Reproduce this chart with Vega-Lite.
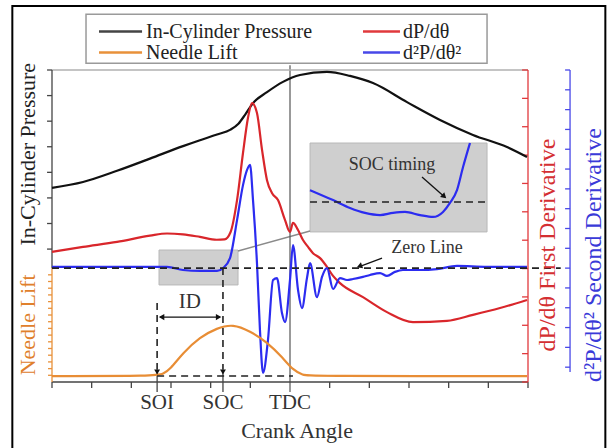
{
  "$schema": "https://vega.github.io/schema/vega-lite/v6.json",
  "width": 476,
  "height": 312,
  "autosize": {"type": "none"},
  "padding": {"left": 52, "top": 70, "right": 80, "bottom": 66},
  "background": "white",
  "config": {"view": {"stroke": null}},
  "encoding": {
    "x": {"field": "a", "type": "quantitative", "scale": {"domain": [-24, 24], "nice": false, "zero": false}, "axis": null},
    "y": {"field": "v", "type": "quantitative", "scale": {"domain": [0, 100], "nice": false, "zero": false}, "axis": null}
  },
  "layer": [
    {
      "data": {"values": [{"a": -28.0, "a2": 31.8, "v": 120.5, "v2": -21.5}]},
      "mark": {"type": "rect", "fillOpacity": 0, "stroke": "#000", "strokeWidth": 2},
      "encoding": {"x2": {"field": "a2"}, "y2": {"field": "v2"}}
    },
    {
      "data": {"values": [{"a": -20.57, "a2": 19.87, "v": 117.9, "v2": 102.2}]},
      "mark": {"type": "rect", "fill": "#ffffff", "stroke": "#9a9a9a", "strokeWidth": 1.5},
      "encoding": {"x2": {"field": "a2"}, "y2": {"field": "v2"}}
    },
    {
      "data": {"values": [
        {"a": -13.21, "a2": -5.24, "v": 42.3, "v2": 31.1},
        {"a": 2.02, "a2": 19.87, "v": 76.6, "v2": 48.1}
      ]},
      "mark": {"type": "rect", "fill": "#cfcfcf", "stroke": "#b8b8b8", "strokeWidth": 1},
      "encoding": {"x2": {"field": "a2"}, "y2": {"field": "v2"}}
    },
    {
      "data": {"values": [{"a": -5.24, "a2": 2.02, "v": 42.0, "v2": 48.4}]},
      "mark": {"type": "rule", "color": "#8a8a8a", "strokeWidth": 1.5},
      "encoding": {"x2": {"field": "a2"}, "y2": {"field": "v2"}}
    },
    {
      "data": {"values": [{"a": 0, "a2": 0, "v": 101.5, "v2": -3.2}]},
      "mark": {"type": "rule", "color": "#555555", "strokeWidth": 1.2},
      "encoding": {"x2": {"field": "a2"}, "y2": {"field": "v2"}}
    },
    {
      "data": {"values": [
        {"a": -24, "a2": 24, "v": 0, "v2": 0, "g": "k"},
        {"a": -24, "a2": 24, "v": 100, "v2": 100, "g": "l"},
        {"a": -24, "a2": -24, "v": 36.5, "v2": 100, "g": "k"},
        {"a": -24, "a2": -24, "v": 0, "v2": 36.5, "g": "o"},
        {"a": 24, "a2": 24, "v": 0, "v2": 100, "g": "r"},
        {"a": 28.24, "a2": 28.24, "v": 3.2, "v2": 100, "g": "b"},
        {"a": -24, "a2": -24, "v": 0, "v2": -1.9, "g": "k"},
        {"a": -20, "a2": -20, "v": 0, "v2": -1.9, "g": "k"},
        {"a": -16, "a2": -16, "v": 0, "v2": -1.9, "g": "k"},
        {"a": -12, "a2": -12, "v": 0, "v2": -1.9, "g": "k"},
        {"a": -8, "a2": -8, "v": 0, "v2": -1.9, "g": "k"},
        {"a": -4, "a2": -4, "v": 0, "v2": -1.9, "g": "k"},
        {"a": 4, "a2": 4, "v": 0, "v2": -1.9, "g": "k"},
        {"a": 8, "a2": 8, "v": 0, "v2": -1.9, "g": "k"},
        {"a": 12, "a2": 12, "v": 0, "v2": -1.9, "g": "k"},
        {"a": 16, "a2": 16, "v": 0, "v2": -1.9, "g": "k"},
        {"a": 20, "a2": 20, "v": 0, "v2": -1.9, "g": "k"},
        {"a": 24, "a2": 24, "v": 0, "v2": -1.9, "g": "k"},
        {"a": -13.4, "a2": -13.4, "v": 4.0, "v2": -3.2, "g": "k"},
        {"a": -6.76, "a2": -6.76, "v": 4.0, "v2": -3.2, "g": "k"},
        {"a": -24, "a2": -24.5, "v": 100, "v2": 100, "g": "k"},
        {"a": -24, "a2": -24.5, "v": 91.8, "v2": 91.8, "g": "k"},
        {"a": -24, "a2": -24.5, "v": 83.6, "v2": 83.6, "g": "k"},
        {"a": -24, "a2": -24.5, "v": 75.4, "v2": 75.4, "g": "k"},
        {"a": -24, "a2": -24.5, "v": 67.2, "v2": 67.2, "g": "k"},
        {"a": -24, "a2": -24.5, "v": 59.0, "v2": 59.0, "g": "k"},
        {"a": -24, "a2": -24.5, "v": 50.8, "v2": 50.8, "g": "k"},
        {"a": -24, "a2": -24.5, "v": 42.6, "v2": 42.6, "g": "k"},
        {"a": -24, "a2": -24.4, "v": 2.15, "v2": 2.15, "g": "o"},
        {"a": -24, "a2": -24.4, "v": 4.29, "v2": 4.29, "g": "o"},
        {"a": -24, "a2": -24.4, "v": 6.44, "v2": 6.44, "g": "o"},
        {"a": -24, "a2": -24.4, "v": 8.59, "v2": 8.59, "g": "o"},
        {"a": -24, "a2": -24.4, "v": 10.74, "v2": 10.74, "g": "o"},
        {"a": -24, "a2": -24.4, "v": 12.88, "v2": 12.88, "g": "o"},
        {"a": -24, "a2": -24.4, "v": 15.03, "v2": 15.03, "g": "o"},
        {"a": -24, "a2": -24.4, "v": 17.18, "v2": 17.18, "g": "o"},
        {"a": -24, "a2": -24.4, "v": 19.32, "v2": 19.32, "g": "o"},
        {"a": -24, "a2": -24.4, "v": 21.47, "v2": 21.47, "g": "o"},
        {"a": -24, "a2": -24.4, "v": 23.62, "v2": 23.62, "g": "o"},
        {"a": -24, "a2": -24.4, "v": 25.76, "v2": 25.76, "g": "o"},
        {"a": -24, "a2": -24.4, "v": 27.91, "v2": 27.91, "g": "o"},
        {"a": -24, "a2": -24.4, "v": 30.06, "v2": 30.06, "g": "o"},
        {"a": -24, "a2": -24.4, "v": 32.21, "v2": 32.21, "g": "o"},
        {"a": -24, "a2": -24.4, "v": 34.35, "v2": 34.35, "g": "o"},
        {"a": 24, "a2": 23.4, "v": 0, "v2": 0, "g": "r"},
        {"a": 24, "a2": 23.4, "v": 9.09, "v2": 9.09, "g": "r"},
        {"a": 24, "a2": 23.4, "v": 18.18, "v2": 18.18, "g": "r"},
        {"a": 24, "a2": 23.4, "v": 27.27, "v2": 27.27, "g": "r"},
        {"a": 24, "a2": 23.4, "v": 36.36, "v2": 36.36, "g": "r"},
        {"a": 24, "a2": 23.4, "v": 45.45, "v2": 45.45, "g": "r"},
        {"a": 24, "a2": 23.4, "v": 54.55, "v2": 54.55, "g": "r"},
        {"a": 24, "a2": 23.4, "v": 63.64, "v2": 63.64, "g": "r"},
        {"a": 24, "a2": 23.4, "v": 72.73, "v2": 72.73, "g": "r"},
        {"a": 24, "a2": 23.4, "v": 81.82, "v2": 81.82, "g": "r"},
        {"a": 24, "a2": 23.4, "v": 90.91, "v2": 90.91, "g": "r"},
        {"a": 24, "a2": 23.4, "v": 100, "v2": 100, "g": "r"},
        {"a": 28.24, "a2": 27.74, "v": 100, "v2": 100, "g": "b"},
        {"a": 28.24, "a2": 27.74, "v": 93.65, "v2": 93.65, "g": "b"},
        {"a": 28.24, "a2": 27.74, "v": 87.3, "v2": 87.3, "g": "b"},
        {"a": 28.24, "a2": 27.74, "v": 80.95, "v2": 80.95, "g": "b"},
        {"a": 28.24, "a2": 27.74, "v": 74.6, "v2": 74.6, "g": "b"},
        {"a": 28.24, "a2": 27.74, "v": 68.25, "v2": 68.25, "g": "b"},
        {"a": 28.24, "a2": 27.74, "v": 61.9, "v2": 61.9, "g": "b"},
        {"a": 28.24, "a2": 27.74, "v": 55.55, "v2": 55.55, "g": "b"},
        {"a": 28.24, "a2": 27.74, "v": 49.2, "v2": 49.2, "g": "b"},
        {"a": 28.24, "a2": 27.74, "v": 42.85, "v2": 42.85, "g": "b"},
        {"a": 28.24, "a2": 27.74, "v": 36.5, "v2": 36.5, "g": "b"},
        {"a": 28.24, "a2": 27.74, "v": 30.15, "v2": 30.15, "g": "b"},
        {"a": 28.24, "a2": 27.74, "v": 23.8, "v2": 23.8, "g": "b"},
        {"a": 28.24, "a2": 27.74, "v": 17.45, "v2": 17.45, "g": "b"},
        {"a": 28.24, "a2": 27.74, "v": 11.1, "v2": 11.1, "g": "b"},
        {"a": 28.24, "a2": 27.74, "v": 4.75, "v2": 4.75, "g": "b"}
      ]},
      "mark": {"type": "rule", "strokeWidth": 1.3},
      "encoding": {
        "x2": {"field": "a2"},
        "y2": {"field": "v2"},
        "color": {"field": "g", "type": "nominal", "legend": null,
          "scale": {"domain": ["k", "l", "o", "r", "b"], "range": ["#444444", "#b0b0b0", "#e8913a", "#e0393c", "#4848e8"]}}
      }
    },
    {
      "data": {"values": [
        {"a": -24, "v": 62.2}, {"a": -20.87, "v": 64.1}, {"a": -17.44, "v": 67.7},
        {"a": -14.12, "v": 71.6}, {"a": -10.79, "v": 75.6}, {"a": -9.08, "v": 77.5},
        {"a": -7.36, "v": 79.3}, {"a": -6.0, "v": 80.9}, {"a": -5.2, "v": 82.8},
        {"a": -4.5, "v": 85.8}, {"a": -3.73, "v": 89.4}, {"a": -2.32, "v": 92.9},
        {"a": -0.71, "v": 96.2}, {"a": 1.01, "v": 98.4}, {"a": 3.73, "v": 99.4},
        {"a": 6.05, "v": 98.1}, {"a": 8.37, "v": 95.8}, {"a": 11.8, "v": 89.7},
        {"a": 15.13, "v": 84.0}, {"a": 18.45, "v": 79.2}, {"a": 21.88, "v": 75.3},
        {"a": 23.9, "v": 72.1}
      ]},
      "mark": {"type": "line", "color": "#111111", "strokeWidth": 2.2, "interpolate": "monotone"}
    },
    {
      "data": {"values": [
        {"a": -24, "v": 41.7}, {"a": -20.87, "v": 43.3}, {"a": -17.44, "v": 44.9},
        {"a": -14.12, "v": 46.9}, {"a": -12.4, "v": 47.6}, {"a": -10.79, "v": 47.3},
        {"a": -9.08, "v": 46.5}, {"a": -7.4, "v": 45.6}, {"a": -6.6, "v": 45.7},
        {"a": -6.0, "v": 48.0}, {"a": -5.34, "v": 58.3}, {"a": -4.74, "v": 73.4},
        {"a": -4.24, "v": 84.6}, {"a": -3.83, "v": 89.4}, {"a": -3.33, "v": 86.2},
        {"a": -2.82, "v": 74.4}, {"a": -2.32, "v": 64.7}, {"a": -1.82, "v": 60.6},
        {"a": -1.21, "v": 58.3}, {"a": -0.5, "v": 51.9}, {"a": 0, "v": 48.1},
        {"a": 0.3, "v": 51.0}, {"a": 0.81, "v": 48.7}, {"a": 1.31, "v": 45.5},
        {"a": 1.82, "v": 43.3}, {"a": 2.32, "v": 41.3}, {"a": 3.03, "v": 39.7},
        {"a": 3.73, "v": 36.9}, {"a": 4.34, "v": 34.0}, {"a": 5.04, "v": 31.7},
        {"a": 7.36, "v": 27.2}, {"a": 9.78, "v": 22.4}, {"a": 12.4, "v": 19.2},
        {"a": 15.83, "v": 19.6}, {"a": 18.45, "v": 21.5}, {"a": 21.18, "v": 23.7},
        {"a": 23.9, "v": 26.3}
      ]},
      "mark": {"type": "line", "color": "#d9262b", "strokeWidth": 2.2, "interpolate": "monotone"}
    },
    {
      "data": {"values": [
        {"a": -24, "v": 36.9}, {"a": -19.16, "v": 36.9}, {"a": -12.4, "v": 36.9},
        {"a": -10.79, "v": 35.9}, {"a": -9.08, "v": 35.6}, {"a": -7.36, "v": 35.6},
        {"a": -6.76, "v": 36.5}, {"a": -6.05, "v": 39.7}, {"a": -5.34, "v": 51.9},
        {"a": -4.74, "v": 63.1}, {"a": -4.34, "v": 67.9}, {"a": -4.03, "v": 69.6},
        {"a": -3.73, "v": 58.3}, {"a": -3.33, "v": 38.1}, {"a": -3.03, "v": 16.7},
        {"a": -2.72, "v": 2.9}, {"a": -2.22, "v": 13.5}, {"a": -1.71, "v": 32.7},
        {"a": -1.31, "v": 33.3}, {"a": -0.81, "v": 22.1}, {"a": -0.5, "v": 19.2},
        {"a": 0, "v": 32.7}, {"a": 0.3, "v": 43.9}, {"a": 0.81, "v": 29.5},
        {"a": 1.21, "v": 23.7}, {"a": 1.71, "v": 33.3}, {"a": 2.02, "v": 38.1},
        {"a": 2.72, "v": 27.2}, {"a": 3.23, "v": 33.7}, {"a": 3.73, "v": 36.5},
        {"a": 4.34, "v": 29.8}, {"a": 5.04, "v": 33.3}, {"a": 5.75, "v": 32.7},
        {"a": 6.35, "v": 33.0}, {"a": 7.36, "v": 33.7}, {"a": 8.07, "v": 34.3},
        {"a": 9.08, "v": 34.9}, {"a": 9.78, "v": 34.0}, {"a": 10.59, "v": 35.3},
        {"a": 11.39, "v": 35.9}, {"a": 13.11, "v": 35.9}, {"a": 14.82, "v": 36.2},
        {"a": 16.84, "v": 37.2}, {"a": 19.87, "v": 36.9}, {"a": 23.9, "v": 36.9}
      ]},
      "mark": {"type": "line", "color": "#2c2cf0", "strokeWidth": 2.2, "interpolate": "monotone"}
    },
    {
      "data": {"values": [
        {"a": -24, "v": 1.9}, {"a": -13.41, "v": 1.9}, {"a": -12.81, "v": 2.6},
        {"a": -12.1, "v": 4.0}, {"a": -10.79, "v": 9.3}, {"a": -9.08, "v": 14.4},
        {"a": -7.36, "v": 17.3}, {"a": -5.75, "v": 18.6}, {"a": -4.03, "v": 16.3},
        {"a": -2.32, "v": 12.8}, {"a": -0.71, "v": 7.7}, {"a": 0.3, "v": 3.8},
        {"a": 1.31, "v": 2.2}, {"a": 2.02, "v": 1.9}, {"a": 23.9, "v": 1.9}
      ]},
      "mark": {"type": "line", "color": "#e88d35", "strokeWidth": 2.2, "interpolate": "basis"}
    },
    {
      "data": {"values": [
        {"a": 2.02, "v": 61.5}, {"a": 4.34, "v": 58.3}, {"a": 6.05, "v": 55.8},
        {"a": 7.56, "v": 54.2}, {"a": 9.08, "v": 53.5}, {"a": 10.39, "v": 54.2},
        {"a": 11.6, "v": 54.5}, {"a": 13.11, "v": 53.5}, {"a": 14.42, "v": 52.9},
        {"a": 15.43, "v": 54.5}, {"a": 16.13, "v": 57.4}, {"a": 16.84, "v": 61.5},
        {"a": 17.45, "v": 68.9}, {"a": 18.15, "v": 76.6}
      ]},
      "mark": {"type": "line", "color": "#2c2cf0", "strokeWidth": 2.2, "interpolate": "monotone"}
    },
    {
      "data": {"values": [
        {"a": -24, "a2": 27.3, "v": 36.5, "v2": 36.5},
        {"a": -13.4, "a2": 0.3, "v": 1.9, "v2": 1.9},
        {"a": 2.02, "a2": 19.87, "v": 57.7, "v2": 57.7},
        {"a": -13.4, "a2": -13.4, "v": 25.3, "v2": 4.0},
        {"a": -6.76, "a2": -6.76, "v": 36.5, "v2": 4.0}
      ]},
      "mark": {"type": "rule", "color": "#222222", "strokeWidth": 1.6, "strokeDash": [7, 5]},
      "encoding": {"x2": {"field": "a2"}, "y2": {"field": "v2"}}
    },
    {
      "data": {"values": [
        {"a": -13.1, "a2": -7.06, "v": 20.8, "v2": 20.8},
        {"a": 13.31, "a2": 15.6, "v": 65.7, "v2": 59.3},
        {"a": 9.28, "a2": 7.0, "v": 39.7, "v2": 37.0}
      ]},
      "mark": {"type": "rule", "color": "#111111", "strokeWidth": 1.3},
      "encoding": {"x2": {"field": "a2"}, "y2": {"field": "v2"}}
    },
    {
      "data": {"values": [{"a": -13.4, "v": 3.2}, {"a": -6.76, "v": 3.2}]},
      "mark": {"type": "point", "shape": "triangle-down", "filled": true, "color": "#111111", "size": 35, "opacity": 1}
    },
    {
      "data": {"values": [{"a": -12.95, "v": 20.8}]},
      "mark": {"type": "point", "shape": "triangle-left", "filled": true, "color": "#111111", "size": 40, "opacity": 1}
    },
    {
      "data": {"values": [{"a": -7.2, "v": 20.8}]},
      "mark": {"type": "point", "shape": "triangle-right", "filled": true, "color": "#111111", "size": 40, "opacity": 1}
    },
    {
      "data": {"values": [{"a": 15.55, "v": 59.5}]},
      "mark": {"type": "point", "shape": "triangle-right", "angle": 42, "filled": true, "color": "#111111", "size": 40, "opacity": 1}
    },
    {
      "data": {"values": [{"a": 7.0, "v": 37.1}]},
      "mark": {"type": "point", "shape": "triangle-right", "angle": 160, "filled": true, "color": "#111111", "size": 40, "opacity": 1}
    },
    {
      "data": {"values": [
        {"a": -19.26, "a2": -14.92, "v": 112.3, "v2": 112.3, "g": "k"},
        {"a": -19.26, "a2": -14.92, "v": 105.6, "v2": 105.6, "g": "o"},
        {"a": 7.36, "a2": 11.09, "v": 112.3, "v2": 112.3, "g": "r"},
        {"a": 7.36, "a2": 11.09, "v": 105.6, "v2": 105.6, "g": "b"}
      ]},
      "mark": {"type": "rule", "strokeWidth": 2.5},
      "encoding": {
        "x2": {"field": "a2"},
        "y2": {"field": "v2"},
        "color": {"field": "g", "type": "nominal", "legend": null,
          "scale": {"domain": ["k", "l", "o", "r", "b"], "range": ["#111111", "#b0b0b0", "#e88d35", "#d9262b", "#2c2cf0"]}}
      }
    },
    {
      "data": {"values": [
        {"a": -14.52, "v": 112.3, "t": "In-Cylinder Pressure"},
        {"a": 11.39, "v": 112.3, "t": "dP/dθ"},
        {"a": -14.52, "v": 105.6, "t": "Needle Lift"},
        {"a": 11.39, "v": 105.6, "t": "d²P/dθ²"}
      ]},
      "mark": {"type": "text", "font": "Liberation Serif", "align": "left", "baseline": "middle", "fontSize": 20, "color": "#222222"},
      "encoding": {"text": {"field": "t"}}
    },
    {
      "data": {"values": [
        {"a": -13.4, "v": -6.8, "t": "SOI"},
        {"a": -6.76, "v": -6.8, "t": "SOC"},
        {"a": 0, "v": -6.8, "t": "TDC"},
        {"a": -10.1, "v": 25.6, "t": "ID"}
      ]},
      "mark": {"type": "text", "font": "Liberation Serif", "align": "center", "baseline": "middle", "fontSize": 21, "color": "#333333"},
      "encoding": {"text": {"field": "t"}}
    },
    {
      "data": {"values": [{"a": 0.71, "v": -15.7, "t": "Crank Angle"}]},
      "mark": {"type": "text", "font": "Liberation Serif", "align": "center", "baseline": "middle", "fontSize": 22, "color": "#333333"},
      "encoding": {"text": {"field": "t"}}
    },
    {
      "data": {"values": [
        {"a": 10.29, "v": 69.6, "t": "SOC timing"},
        {"a": 13.81, "v": 42.9, "t": "Zero Line"}
      ]},
      "mark": {"type": "text", "font": "Liberation Serif", "align": "center", "baseline": "middle", "fontSize": 18, "color": "#333333"},
      "encoding": {"text": {"field": "t"}}
    },
    {
      "data": {"values": [{"a": -26.42, "v": 73.0, "t": "In-Cylinder Pressure"}]},
      "mark": {"type": "text", "font": "Liberation Serif", "align": "center", "baseline": "middle", "angle": 270, "fontSize": 22, "color": "#222222"},
      "encoding": {"text": {"field": "t"}}
    },
    {
      "data": {"values": [{"a": -26.42, "v": 18.3, "t": "Needle Lift"}]},
      "mark": {"type": "text", "font": "Liberation Serif", "align": "center", "baseline": "middle", "angle": 270, "fontSize": 22, "color": "#e0802c"},
      "encoding": {"text": {"field": "t"}}
    },
    {
      "data": {"values": [{"a": 26.02, "v": 43.9, "t": "dP/dθ First Derivative"}]},
      "mark": {"type": "text", "font": "Liberation Serif", "align": "center", "baseline": "middle", "angle": 270, "fontSize": 24, "color": "#d42f32"},
      "encoding": {"text": {"field": "t"}}
    },
    {
      "data": {"values": [{"a": 30.66, "v": 40.7, "t": "d²P/dθ² Second Derivative"}]},
      "mark": {"type": "text", "font": "Liberation Serif", "align": "center", "baseline": "middle", "angle": 270, "fontSize": 24, "color": "#3a3ad8"},
      "encoding": {"text": {"field": "t"}}
    }
  ]
}
